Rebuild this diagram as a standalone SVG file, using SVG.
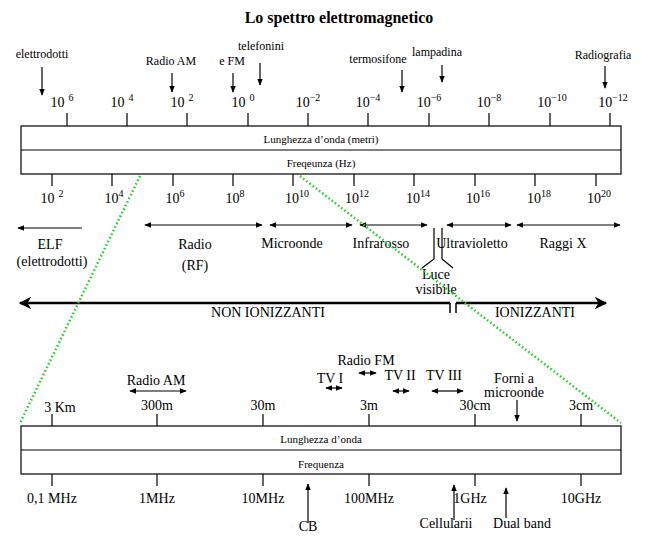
<svg xmlns="http://www.w3.org/2000/svg" width="648" height="543" viewBox="0 0 648 543">
<defs>
<marker id="ah" viewBox="0 0 10 10" refX="9" refY="5" markerWidth="6" markerHeight="6" orient="auto-start-reverse"><path d="M0,1 L10,5 L0,9 Z" fill="#000"/></marker>
<marker id="big" viewBox="0 0 10 10" refX="9" refY="5" markerWidth="5" markerHeight="5" orient="auto-start-reverse"><path d="M0,0 L10,5 L0,10 L3,5 Z" fill="#000"/></marker>
</defs>
<style>
text{font-family:"Liberation Serif","DejaVu Serif",serif;fill:#000;text-anchor:middle}
.l{font-size:14px}.s{font-size:11px}.sup{font-size:10px}
.box{fill:#fff;stroke:#000;stroke-width:1.2}
.t{stroke:#000;stroke-width:1.2}
.a{stroke:#000;stroke-width:1.2;fill:none;marker-end:url(#ah)}
.d{stroke:#000;stroke-width:1.2;fill:none;marker-end:url(#ah);marker-start:url(#ah)}
.g{stroke:#22cc22;stroke-width:2.5;stroke-dasharray:1.5 2.5;fill:none}
</style>
<rect width="648" height="543" fill="#fff"/>
<text x="339" y="23" font-family="Liberation Serif, serif" style="font-size:16px;font-weight:bold">Lo spettro elettromagnetico</text>

<g id="top-scale" font-family="Liberation Serif, serif">
<rect class="box" x="21" y="126" width="600" height="48"/>
<line class="t" x1="21" y1="150" x2="621" y2="150"/>
<text class="s" x="321" y="143">Lunghezza d’onda (metri)</text>
<text class="s" x="321" y="167">Freqeunza (Hz)</text>
<path class="t" d="M67,113V126M127,113V126M187,113V126M248,113V126M308,113V126M368,113V126M429,113V126M489,113V126M550,113V126M610,113V126"/>
<path class="t" d="M52,174V186M112,174V186M173,174V186M233,174V186M293,174V186M354,174V186M414,174V186M475,174V186M535,174V186M596,174V186"/>
<g class="l">
<text x="62" y="107">10<tspan class="sup" dx="4" dy="-6">6</tspan></text>
<text x="122" y="107">10<tspan class="sup" dx="4" dy="-6">4</tspan></text>
<text x="182" y="107">10<tspan class="sup" dx="4" dy="-6">2</tspan></text>
<text x="243" y="107">10<tspan class="sup" dx="4" dy="-6">0</tspan></text>
<text x="308" y="107">10<tspan class="sup" dy="-6">−2</tspan></text>
<text x="368" y="107">10<tspan class="sup" dy="-6">−4</tspan></text>
<text x="429" y="107">10<tspan class="sup" dy="-6">−6</tspan></text>
<text x="489" y="107">10<tspan class="sup" dy="-6">−8</tspan></text>
<text x="552" y="107">10<tspan class="sup" dy="-6">−10</tspan></text>
<text x="613" y="107">10<tspan class="sup" dy="-6">−12</tspan></text>
<text x="52" y="203">10<tspan class="sup" dx="4" dy="-6">2</tspan></text>
<text x="114" y="203">10<tspan class="sup" dy="-6">4</tspan></text>
<text x="175" y="203">10<tspan class="sup" dy="-6">6</tspan></text>
<text x="235" y="203">10<tspan class="sup" dy="-6">8</tspan></text>
<text x="297" y="203">10<tspan class="sup" dy="-6">10</tspan></text>
<text x="357" y="203">10<tspan class="sup" dy="-6">12</tspan></text>
<text x="418" y="203">10<tspan class="sup" dy="-6">14</tspan></text>
<text x="478" y="203">10<tspan class="sup" dy="-6">16</tspan></text>
<text x="539" y="203">10<tspan class="sup" dy="-6">18</tspan></text>
<text x="599" y="203">10<tspan class="sup" dy="-6">20</tspan></text>
</g>
</g>

<g id="top-annotations" font-family="Liberation Serif, serif" style="font-size:12px">
<text x="42" y="58">elettrodotti</text>
<text x="171" y="65">Radio AM</text>
<text x="232" y="65">e FM</text>
<text x="261" y="50">telefonini</text>
<text x="378" y="63">termosifone</text>
<text x="437" y="56">lampadina</text>
<text x="603" y="59">Radiografia</text>
</g>

<g id="bands" class="l" font-family="Liberation Serif, serif">
<text x="50" y="249">ELF</text>
<text x="52" y="266">(elettrodotti)</text>
<text x="195" y="249">Radio</text>
<text x="195" y="270">(RF)</text>
<text x="292" y="248">Microonde</text>
<text x="381" y="248">Infrarosso</text>
<text x="472" y="248">Ultravioletto</text>
<text x="563" y="248">Raggi X</text>
<text x="436" y="279">Luce</text>
<text x="436" y="294">visibile</text>
<text x="268" y="317">NON IONIZZANTI</text>
<text x="535" y="317">IONIZZANTI</text>
</g>

<g id="bottom-scale" font-family="Liberation Serif, serif">
<rect class="box" x="21" y="426" width="600" height="48"/>
<line class="t" x1="21" y1="450" x2="621" y2="450"/>
<text class="s" x="321" y="443">Lunghezza d’onda</text>
<text class="s" x="321" y="468">Frequenza</text>
<path class="t" d="M52,414V426M157,414V426M263,414V426M369,414V426M475,414V426M581,414V426M52,474V486M157,474V486M263,474V486M369,474V486M475,474V486M581,474V486"/>
<g class="l">
<text x="60" y="412">3 Km</text><text x="157" y="410">300m</text><text x="263" y="410">30m</text><text x="369" y="410">3m</text><text x="475" y="410">30cm</text><text x="581" y="410">3cm</text>
<text x="52" y="503">0,1 MHz</text><text x="157" y="503">1MHz</text><text x="263" y="503">10MHz</text><text x="369" y="503">100MHz</text><text x="470" y="503">1GHz</text><text x="581" y="503">10GHz</text>
<text x="308" y="531">CB</text><text x="446" y="528">Cellularii</text><text x="522" y="528">Dual band</text>
<text x="514" y="383">Forni a</text><text x="514" y="397">microonde</text>
<text x="156" y="385">Radio AM</text>
<text x="330" y="383">TV I</text>
<text x="366" y="365">Radio FM</text>
<text x="400" y="380">TV II</text>
<text x="444" y="380">TV III</text>
</g>
</g>

<g id="connectors">
<line class="a" x1="42" y1="67" x2="42" y2="95"/>
<line class="a" x1="172" y1="73" x2="172" y2="92"/>
<line class="a" x1="233" y1="73" x2="233" y2="92"/>
<line class="a" x1="260" y1="63" x2="260" y2="85"/>
<line class="a" x1="402" y1="70" x2="402" y2="92"/>
<line class="a" x1="442" y1="65" x2="442" y2="82"/>
<line class="a" x1="605" y1="66" x2="605" y2="88"/>
<line class="a" x1="82" y1="228" x2="18" y2="228"/>
<line class="d" x1="145" y1="225" x2="262" y2="225"/>
<line class="d" x1="270" y1="225" x2="352" y2="225"/>
<line class="d" x1="360" y1="225" x2="427" y2="225"/>
<line class="d" x1="447" y1="225" x2="511" y2="225"/>
<line class="d" x1="517" y1="225" x2="620" y2="225"/>
<path class="t" fill="none" d="M434,228V259L422,268M442,228V259L453,268"/>
<line stroke="#000" stroke-width="2.5" x1="20" y1="303" x2="450" y2="303" style="marker-start:url(#big)"/>
<line stroke="#000" stroke-width="2.5" x1="456" y1="303" x2="606" y2="303" style="marker-end:url(#big)"/>
<path stroke="#000" stroke-width="1.5" fill="none" d="M450,303V313M456,303V313"/>
<line class="g" x1="140" y1="176" x2="20" y2="423"/>
<line class="g" x1="300" y1="176" x2="621" y2="423"/>
<line class="a" x1="517" y1="400" x2="517" y2="421"/>
<line class="d" x1="130" y1="391" x2="186" y2="391"/>
<line class="d" x1="326" y1="388" x2="342" y2="388"/>
<line class="d" x1="359" y1="373" x2="376" y2="373"/>
<line class="d" x1="393" y1="391" x2="409" y2="391"/>
<line class="d" x1="432" y1="391" x2="463" y2="391"/>
<line class="a" x1="308" y1="523" x2="308" y2="484"/>
<line class="a" x1="454" y1="520" x2="454" y2="485"/>
<line class="a" x1="506" y1="518" x2="506" y2="488"/>
</g>
</svg>
